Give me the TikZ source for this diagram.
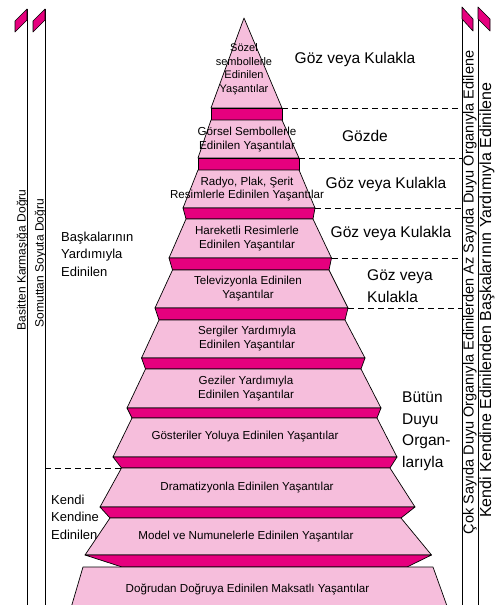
\documentclass[tikz,border=0pt]{standalone}
\usepackage{fontspec}
\setmainfont{Liberation Sans}
\definecolor{lpink}{RGB}{246,190,220}
\definecolor{mag}{RGB}{230,0,126}
\begin{document}
\begin{tikzpicture}[x=1pt,y=-1pt,
  lvl/.style={fill=lpink,draw=black,line width=0.7pt,line join=round},
  band/.style={fill=mag,draw=black,line width=0.7pt,line join=round},
  ptext/.style={font=\fontsize{11.6}{13.5}\selectfont,align=center,inner sep=0pt},
  rlab/.style={font=\fontsize{15.5}{21.5}\selectfont,inner sep=0pt},
  rlabl/.style={font=\fontsize{15.5}{21.5}\selectfont,align=left,inner sep=0pt,anchor=west},
  llab/.style={font=\fontsize{13}{17.5}\selectfont,align=left,inner sep=0pt,anchor=west},
  vtext/.style={rotate=90,inner sep=0pt,anchor=base},
  guide/.style={dash pattern=on 6pt off 4pt,line width=0.7pt},
  axisline/.style={line width=0.9pt},
  flag/.style={fill=mag,draw=black,line width=0.6pt,line join=round}]
\useasboundingbox (0,0) rectangle (502,605);
\clip (0,0) rectangle (502,605);

% side axes
\coordinate (la1t) at (27,9);   \coordinate (la1b) at (27,606);
\coordinate (la2t) at (45,9);   \coordinate (la2b) at (45,606);
\coordinate (ra1t) at (462,7);  \coordinate (ra1b) at (462,606);
\coordinate (ra2t) at (478,7);  \coordinate (ra2b) at (478,606);
\draw[axisline] (la1t) -- (la1b);
\draw[axisline] (la2t) -- (la2b);
\draw[axisline] (ra1t) -- (ra1b);
\draw[axisline] (ra2t) -- (ra2b);
\draw[flag] (15,32) -- (15,21) -- (la1t) -- (27,20) -- cycle;
\draw[flag] (33,32) -- (33,21) -- (la2t) -- (45,20) -- cycle;
\draw[flag] (ra1t) -- (473,19) -- (473,31) -- (462,19) -- cycle;
\draw[flag] (ra2t) -- (490,19) -- (490,31) -- (478,19) -- cycle;

% pyramid levels
\draw[lvl] (244,18) -- (282,108) -- (211,108) -- cycle;
\draw[band] (211,108) -- (282,108) -- (282,120) -- (211,120) -- cycle;
\draw[lvl] (211,120) -- (282,120) -- (299,158) -- (198,158) -- cycle;
\draw[band] (198,158) -- (299,158) -- (299,170) -- (198,170) -- cycle;
\draw[lvl] (198,170) -- (299,170) -- (315,208) -- (183,208) -- cycle;
\draw[band] (183,208) -- (315,208) -- (313,219) -- (186,219) -- cycle;
\draw[lvl] (186,219) -- (313,219) -- (331.5,258) -- (169,258) -- cycle;
\draw[band] (169,258) -- (331.5,258) -- (329,270) -- (172.5,270) -- cycle;
\draw[lvl] (172.5,270) -- (329,270) -- (348,308) -- (155,308) -- cycle;
\draw[band] (155,308) -- (348,308) -- (345,320) -- (159,320) -- cycle;
\draw[lvl] (159,320) -- (345,320) -- (365,358) -- (141.5,358) -- cycle;
\draw[band] (141.5,358) -- (365,358) -- (361,369) -- (145.5,369) -- cycle;
\draw[lvl] (145.5,369) -- (361,369) -- (381,408) -- (127,408) -- cycle;
\draw[band] (127,408) -- (381,408) -- (377,418) -- (132,418) -- cycle;
\draw[lvl] (132,418) -- (377,418) -- (397,457) -- (113,457) -- cycle;
\draw[band] (113,457) -- (397,457) -- (390,468) -- (121.5,468) -- cycle;
\draw[lvl] (121.5,468) -- (390,468) -- (415,507) -- (100,507) -- cycle;
\draw[band] (100,507) -- (415,507) -- (401,518) -- (110,518) -- cycle;
\draw[lvl] (110,518) -- (401,518) -- (431.5,555) -- (85,555) -- cycle;
\draw[band] (85,555) -- (431.5,555) -- (407,567) -- (122,567) -- cycle;
\draw[lvl] (83,567) -- (433,567) -- (449.5,613) -- (69.5,613) -- cycle;

% dashed guides
\coordinate (g1) at (282,108);
\coordinate (g2) at (299,158);
\coordinate (g3) at (315,208);
\coordinate (g4) at (331.5,258);
\coordinate (g5) at (348,308);
\coordinate (g6) at (121.5,468);
\draw[guide] (g1) -- (g1 -| ra1t);
\draw[guide] (g2) -- (g2 -| ra1t);
\draw[guide] (g3) -- (g3 -| ra1t);
\draw[guide] (g4) -- (g4 -| ra1t);
\draw[guide] (g5) -- (g5 -| ra1t);
\draw[guide] (g6 -| la2t) -- (g6);

% pyramid texts
\node[ptext,font=\fontsize{11}{13.5}\selectfont] (t1) at (244,69) {Sözel\\sembollerle\\Edinilen\\Yaşantılar};
\node[ptext] (t2) at (247,139.5) {Görsel Sembollerle\\Edinilen Yaşantılar};
\node[ptext] (t3) at (247,189) {Radyo, Plak, Şerit\\Resimlerle Edinilen Yaşantılar};
\node[ptext] (t4) at (247,238.5) {Hareketli Resimlerle\\Edinilen Yaşantılar};
\node[ptext] (t5) at (248,288.5) {Televizyonla Edinilen\\Yaşantılar};
\node[ptext] (t6) at (247,338.5) {Sergiler Yardımıyla\\Edinilen Yaşantılar};
\node[ptext] (t7) at (246,388.5) {Geziler Yardımıyla\\Edinilen Yaşantılar};
\node[ptext] (t8) at (245,437) {Gösteriler Yoluya Edinilen Yaşantılar};
\node[ptext] (t9) at (247,487.5) {Dramatizyonla Edinilen Yaşantılar};
\node[ptext] (t10) at (246,536.5) {Model ve Numunelerle Edinilen Yaşantılar};
\node[ptext] (t11) at (247.5,589) {Doğrudan Doğruya Edinilen Maksatlı Yaşantılar};

% right labels
\node[rlab] (r1) at (355,59) {Göz veya Kulakla};
\node[rlab] (r2) at (365,136) {Gözde};
\node[rlab] (r3) at (386,184) {Göz veya Kulakla};
\node[rlab] (r4) at (391,233) {Göz veya Kulakla};
\node[rlabl] (r5) at (367,286) {Göz veya\\Kulakla};
\node[rlabl] (r6) at (402,431.5) {Bütün\\Duyu\\Organ-\\larıyla};

% left labels
\node[llab] (l1) at (61,254) {Başkalarının\\Yardımıyla\\Edinilen};
\node[llab] (l2) at (51,517) {Kendi\\Kendine\\Edinilen};

% rotated axis texts
\node[vtext,font=\fontsize{12}{12}\selectfont] (v1) at (25.5,260) {Basitten Karmaşığa Doğru};
\node[vtext,font=\fontsize{12}{12}\selectfont] (v2) at (43.5,263) {Somuttan Soyuta Doğru};
\node[vtext,font=\fontsize{14.5}{14.5}\selectfont] (v3) at (473.5,292.5) {Çok Sayıda Duyu Organıyla Edinilerden Az Sayıda Duyu Organıyla Edilene};
\node[vtext,font=\fontsize{16}{16}\selectfont] (v4) at (491,300) {Kendi Kendine Edinilenden Başkalarının Yardımıyla Edinilene};
\end{tikzpicture}
\end{document}
